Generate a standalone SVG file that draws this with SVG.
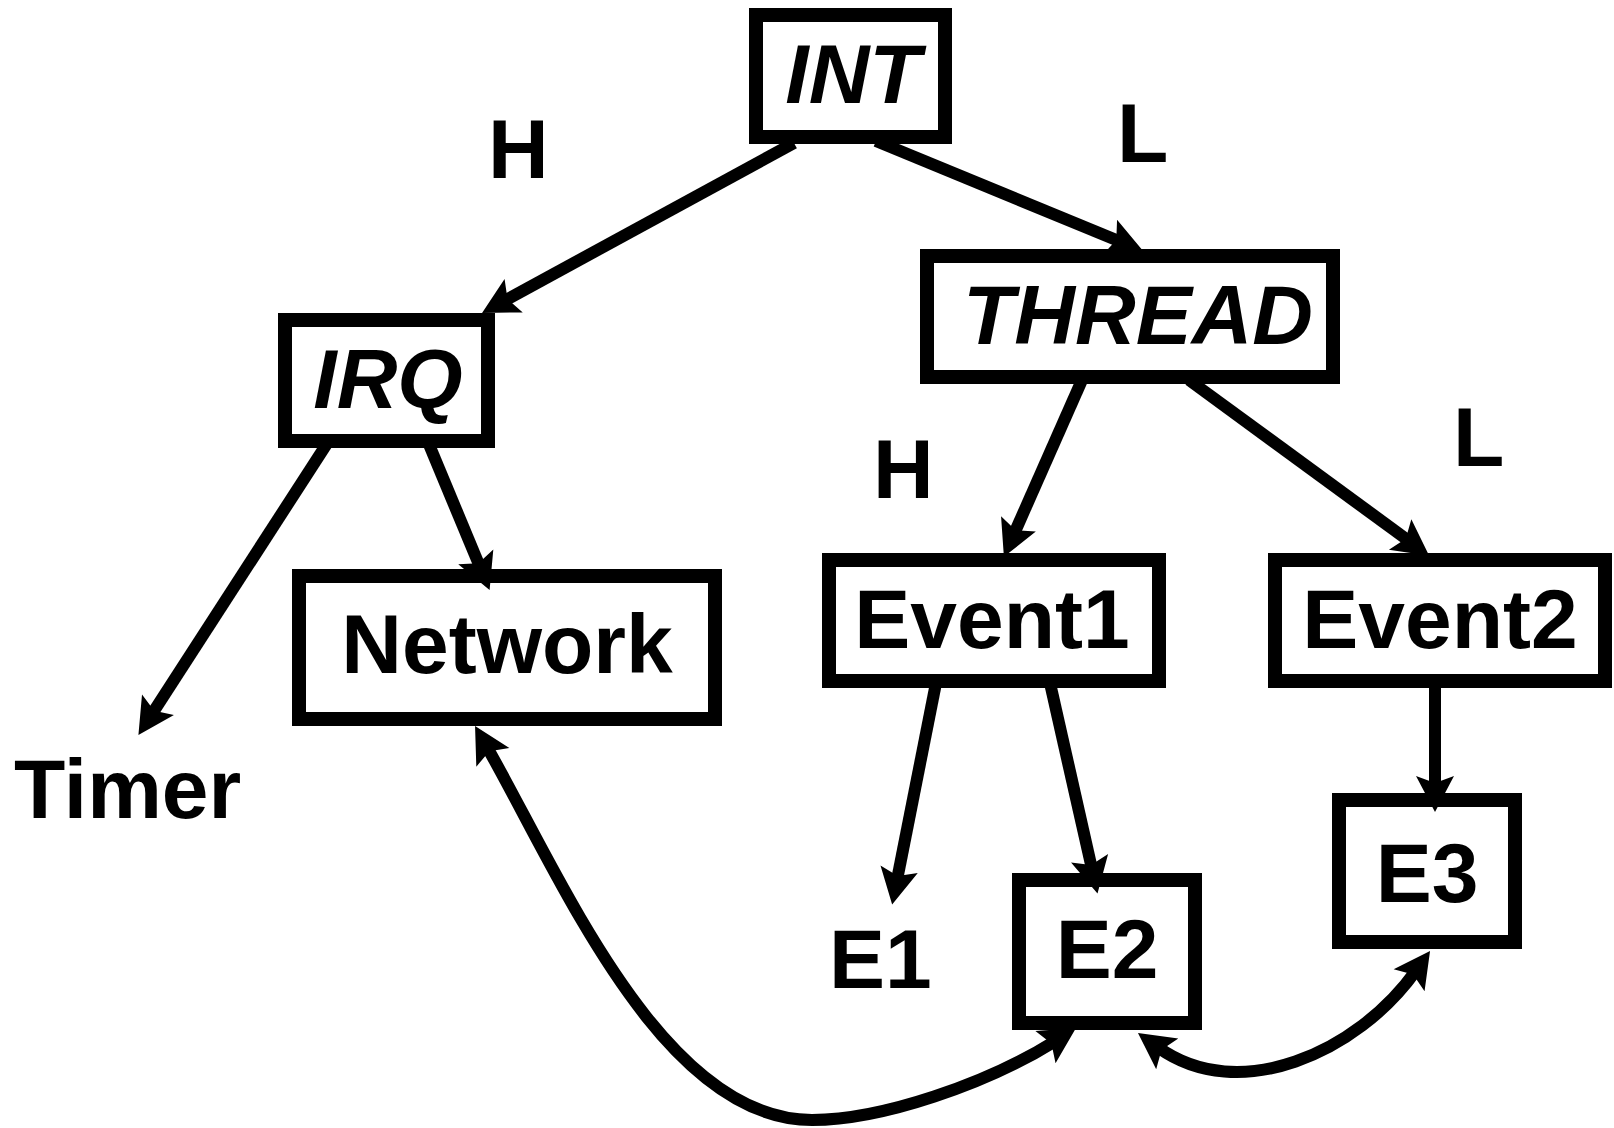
<svg xmlns="http://www.w3.org/2000/svg" width="1614" height="1128" viewBox="0 0 1614 1128">
<style>
.box{fill:#fff;stroke:#000;stroke-width:14}
.t{font-family:"Liberation Sans",Arial,sans-serif;font-weight:bold;font-size:84px;fill:#000}
.i{font-style:italic}
.m{text-anchor:middle}
.c{fill:none;stroke:#000;stroke-width:12}
</style>
<defs>
<marker id="ah" markerUnits="userSpaceOnUse" viewBox="0 -20 37 40" refX="11" refY="0" markerWidth="37" markerHeight="40" orient="auto-start-reverse" overflow="visible">
<path d="M36,0 L0,-19 L7,0 L0,19 Z" fill="#000"/>
</marker>
</defs>
<rect width="1614" height="1128" fill="#fff"/>
<g id="nodes">
<g id="INT"><rect class="box" x="756" y="15" width="189" height="122"/><text class="t i m" x="853" y="103">INT</text></g>
<g id="IRQ"><rect class="box" x="285" y="320" width="203" height="121"/><text class="t i m" x="388" y="408">IRQ</text></g>
<g id="THREAD"><rect class="box" x="927" y="256" width="406" height="121"/><text class="t i m" x="1138" y="344">THREAD</text></g>
<g id="Network"><rect class="box" x="299" y="576" width="416" height="143"/><text class="t m" x="507" y="673">Network</text></g>
<g id="Event1"><rect class="box" x="829" y="560" width="330" height="121"/><text class="t m" x="992" y="648">Event1</text></g>
<g id="Event2"><rect class="box" x="1275" y="560" width="330" height="121"/><text class="t m" x="1440" y="648">Event2</text></g>
<g id="E2"><rect class="box" x="1019" y="880" width="176" height="143"/><text class="t m" x="1107" y="978">E2</text></g>
<g id="E3"><rect class="box" x="1339" y="800" width="176" height="142"/><text class="t m" x="1427" y="902">E3</text></g>
<g id="Timer"><text class="t" x="14" y="818">Timer</text></g>
<g id="E1"><text class="t" x="829" y="988">E1</text></g>
</g>
<g id="connectors">
<path class="c" marker-end="url(#ah)" d="M794,143 L504,301"/>
<path class="c" marker-end="url(#ah)" d="M876,141 L1120,241.5"/>
<path class="c" marker-end="url(#ah)" d="M328,442 L152,714"/>
<path class="c" marker-end="url(#ah)" d="M428,442 L480,567"/>
<path class="c" marker-end="url(#ah)" d="M1082,380 L1014,534"/>
<path class="c" marker-end="url(#ah)" d="M1189,380 L1409,541"/>
<path class="c" marker-end="url(#ah)" d="M936,683 L897,880"/>
<path class="c" marker-end="url(#ah)" d="M1050,683 L1092,869"/>
<path class="c" marker-end="url(#ah)" d="M1435,683 L1435,787"/>
<path class="c" marker-start="url(#ah)" marker-end="url(#ah)" d="M487.4,747.7 C561.5,878.1 662,1120 812,1120 C882,1120 987,1083.7 1054.8,1041.3"/>
<path class="c" marker-start="url(#ah)" marker-end="url(#ah)" d="M1158.3,1047.5 C1239.3,1105.5 1357.5,1052.3 1415.5,971.3"/>
<text class="t" x="488" y="178">H</text>
<text class="t" x="1117" y="162">L</text>
<text class="t" x="873" y="498">H</text>
<text class="t" x="1453" y="466">L</text>
</g>
</svg>
